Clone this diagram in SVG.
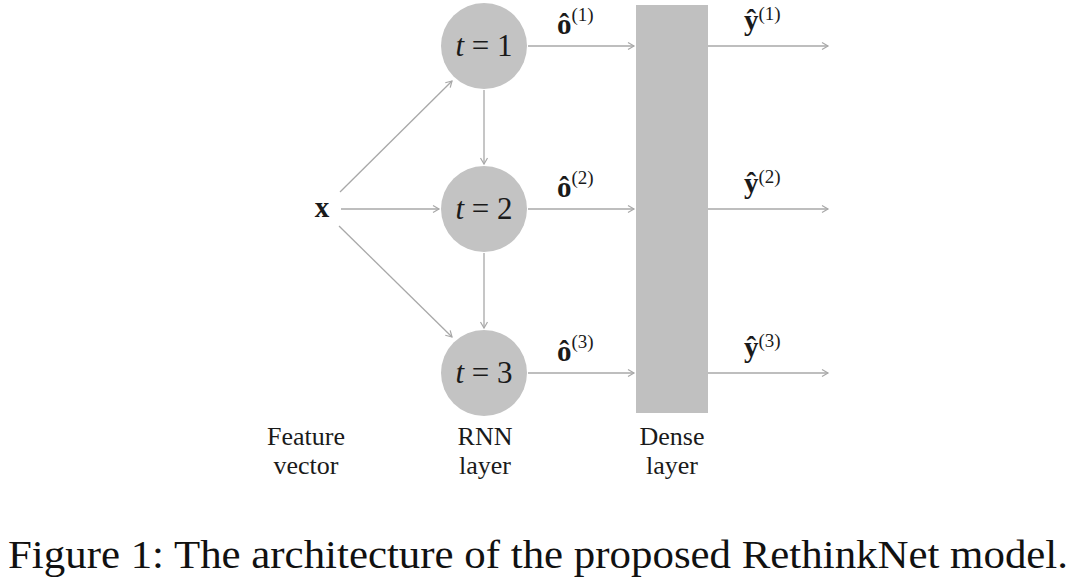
<svg xmlns="http://www.w3.org/2000/svg" width="1080" height="582" viewBox="0 0 1080 582">
<style>
.node{fill:#c3c3c3}
.dense{fill:#c0c0c0}
.edge{stroke:#a8a8a8;stroke-width:1.3;fill:none;marker-end:url(#ah)}
.math{font-family:"Liberation Serif","Times New Roman",Times,serif;font-size:31px;fill:#1a1a1a}
.it{font-style:italic}
.lbl{font-family:"Liberation Serif","Times New Roman",Times,serif;font-weight:bold;font-size:29px;fill:#1a1a1a}
.sup{font-weight:normal;font-size:19px}
.cap{font-family:"Liberation Serif","Times New Roman",Times,serif;font-size:26px;fill:#1a1a1a;text-anchor:middle}
.fig{font-family:"Liberation Serif","Times New Roman",Times,serif;font-size:39px;fill:#111}
</style>
<defs>
<marker id="ah" markerWidth="10" markerHeight="10" refX="8" refY="5" orient="auto" markerUnits="userSpaceOnUse">
<path d="M2,1.5 L8,5 L2,8.5" fill="none" stroke="#a8a8a8" stroke-width="1.2"/>
</marker>
</defs>
<rect width="1080" height="582" fill="#fff"/>
<g id="connectors">
<line class="edge" x1="340" y1="192" x2="452" y2="81"/>
<line class="edge" x1="341" y1="209" x2="439" y2="209"/>
<line class="edge" x1="339" y1="226" x2="452" y2="337"/>
<line class="edge" x1="484" y1="90" x2="484" y2="164"/>
<line class="edge" x1="484" y1="253" x2="484" y2="328"/>
<line class="edge" x1="528" y1="46" x2="634" y2="46"/>
<line class="edge" x1="528" y1="209" x2="634" y2="209"/>
<line class="edge" x1="528" y1="373" x2="634" y2="373"/>
<line class="edge" x1="708" y1="46" x2="828" y2="46"/>
<line class="edge" x1="708" y1="209" x2="828" y2="209"/>
<line class="edge" x1="708" y1="373" x2="828" y2="373"/>
</g>
<g id="x">
<text x="322" y="217" class="lbl" text-anchor="middle">x</text>
</g>
<g id="t1">
<circle class="node" cx="484" cy="46" r="43"/>
<text x="484" y="56" class="math" text-anchor="middle"><tspan class="it">t</tspan> = 1</text>
</g>
<g id="t2">
<circle class="node" cx="484" cy="209" r="43"/>
<text x="484" y="219" class="math" text-anchor="middle"><tspan class="it">t</tspan> = 2</text>
</g>
<g id="t3">
<circle class="node" cx="484" cy="373" r="43"/>
<text x="484" y="383" class="math" text-anchor="middle"><tspan class="it">t</tspan> = 3</text>
</g>
<g id="dense">
<rect class="dense" x="636" y="5" width="72" height="408"/>
</g>
<g id="labels">
<text x="557" y="34" class="lbl">ô<tspan class="sup" dy="-13">(1)</tspan></text>
<text x="557" y="197" class="lbl">ô<tspan class="sup" dy="-13">(2)</tspan></text>
<text x="557" y="361" class="lbl">ô<tspan class="sup" dy="-13">(3)</tspan></text>
<text x="744" y="30" class="lbl">ŷ<tspan class="sup" dy="-10">(1)</tspan></text>
<text x="744" y="193" class="lbl">ŷ<tspan class="sup" dy="-10">(2)</tspan></text>
<text x="744" y="357" class="lbl">ŷ<tspan class="sup" dy="-10">(3)</tspan></text>
</g>
<g id="captions">
<text x="306" y="445" class="cap">Feature</text>
<text x="306" y="474" class="cap">vector</text>
<text x="485" y="445" class="cap">RNN</text>
<text x="485" y="474" class="cap">layer</text>
<text x="672" y="445" class="cap">Dense</text>
<text x="672" y="474" class="cap">layer</text>
</g>
<text x="8" y="568" class="fig" textLength="1060" lengthAdjust="spacingAndGlyphs">Figure 1: The architecture of the proposed RethinkNet model.</text>
</svg>
